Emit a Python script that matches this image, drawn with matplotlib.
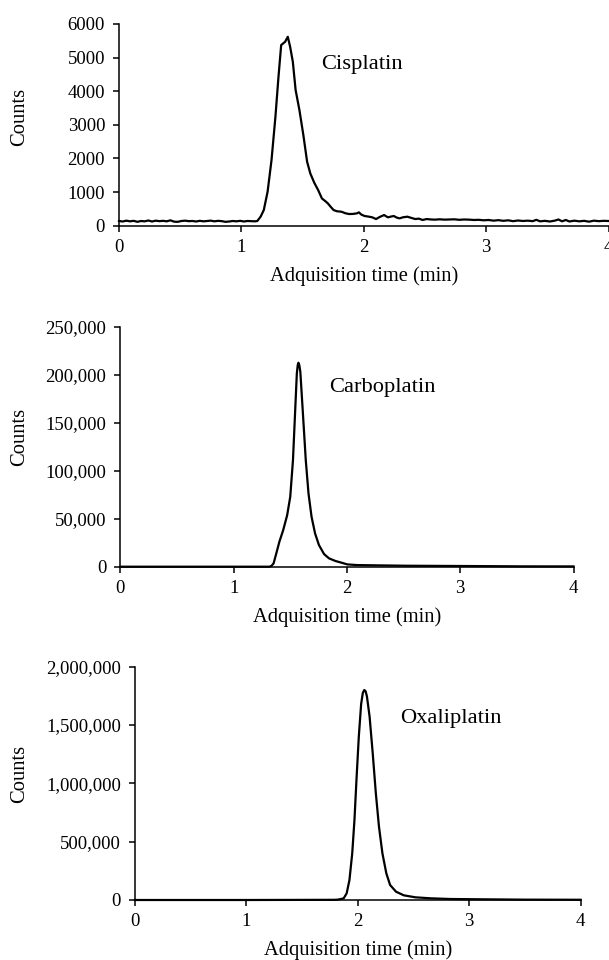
import matplotlib
matplotlib.use("Agg")
import matplotlib.pyplot as plt
from matplotlib.ticker import FuncFormatter

plt.rcParams['font.family'] = ['Liberation Serif', 'DejaVu Serif']

# ---------------- data ----------------
cis_time = [0.00, 0.03, 0.06, 0.09, 0.12, 0.15, 0.18, 0.21, 0.24, 0.27, 0.30, 0.33, 0.36,
            0.39, 0.42, 0.45, 0.48, 0.51, 0.54, 0.57, 0.60, 0.63, 0.66, 0.69, 0.72, 0.75,
            0.78, 0.81, 0.84, 0.87, 0.90, 0.93, 0.96, 0.99, 1.02, 1.05, 1.08, 1.11, 1.13,
            1.157, 1.183, 1.214, 1.246, 1.278, 1.303, 1.325, 1.357, 1.379, 1.398, 1.42,
            1.443, 1.474, 1.506, 1.537, 1.563, 1.595, 1.627, 1.658, 1.684, 1.706, 1.73,
            1.753, 1.78, 1.817, 1.85, 1.88, 1.91, 1.944, 1.96, 1.98, 2.007, 2.04, 2.07,
            2.10, 2.13, 2.166, 2.197, 2.22, 2.245, 2.27, 2.292, 2.32, 2.356, 2.39, 2.42,
            2.45, 2.48, 2.514, 2.55, 2.58, 2.62, 2.66, 2.70, 2.74, 2.78, 2.82, 2.86, 2.90,
            2.94, 2.98, 3.02, 3.06, 3.10, 3.14, 3.18, 3.22, 3.26, 3.30, 3.34, 3.38, 3.41,
            3.44, 3.48, 3.52, 3.56, 3.59, 3.62, 3.65, 3.68, 3.72, 3.76, 3.80, 3.84, 3.88,
            3.92, 3.96, 4.00]
cis_counts = [140, 125, 150, 130, 145, 115, 140, 130, 155, 125, 150, 135, 145,
              130, 160, 120, 115, 140, 150, 135, 140, 125, 145, 130, 140, 150,
              130, 145, 135, 115, 125, 140, 130, 145, 125, 140, 135, 130, 140,
              268, 466, 1010, 1950, 3240, 4430, 5375, 5470, 5620, 5325, 4880,
              4035, 3440, 2700, 1900, 1555, 1280, 1060, 810, 735, 665, 560,
              466, 430, 416, 370, 347, 350, 367, 397, 330, 288, 270, 248,
              198, 260, 317, 248, 270, 288, 240, 218, 250, 268, 230, 198,
              210, 170, 198, 185, 180, 190, 180, 185, 190, 175, 185, 180, 170,
              175, 160, 170, 150, 165, 145, 160, 135, 155, 140, 150, 135, 175,
              130, 145, 125, 150, 185, 130, 170, 125, 150, 130, 145, 120, 150,
              135, 145, 140]

carbo_time = [0.0, 1.0, 1.318, 1.336, 1.353, 1.377, 1.404, 1.438, 1.473, 1.50, 1.524,
              1.541, 1.558, 1.566, 1.572, 1.580, 1.589, 1.61, 1.637, 1.661, 1.688, 1.719,
              1.753, 1.798, 1.842, 1.90, 1.952, 2.003, 2.09, 2.26, 2.53, 3.05, 3.56, 4.0]
carbo_counts = [0, 0, 0, 1000, 3500, 13900, 26000, 38200, 53800, 72900, 111000,
                156000, 201000, 210000, 212500, 210000, 203000, 163000, 111000, 76400,
                52000, 34700, 22600, 13200, 8700, 5900, 4200, 2400, 1700, 1400, 1000,
                700, 350, 300]

oxa_time = [0.0, 1.0, 1.786, 1.82, 1.873, 1.90, 1.925, 1.95, 1.97, 1.988, 2.009, 2.03,
            2.045, 2.058, 2.070, 2.082, 2.106, 2.134, 2.162, 2.19, 2.221, 2.256, 2.29,
            2.343, 2.413, 2.518, 2.657, 2.832, 3.146, 3.49, 4.0]
oxa_counts = [0, 0, 1500, 2900, 14000, 57000, 171000, 400000, 686000, 1029000, 1400000,
              1680000, 1775000, 1800000, 1790000, 1745000, 1571000, 1257000, 914000,
              629000, 400000, 228600, 128600, 71400, 40000, 22900, 14300, 8600, 5700,
              3000, 2000]

names = ["Cisplatin", "Carboplatin", "Oxaliplatin"]
x_ticks = [0, 1, 2, 3, 4]
y_ticks = [[0, 1000, 2000, 3000, 4000, 5000, 6000],
           [0, 50000, 100000, 150000, 200000, 250000],
           [0, 500000, 1000000, 1500000, 2000000]]
label_pos = [(1.65, 4810), (1.842, 187000), (2.379, 1551700)]
xlabel = "Adquisition time (min)"
ylabel = "Counts"

# ---------------- figure ----------------
W, H = 609, 960
fig = plt.figure(figsize=(W / 100, H / 100), dpi=100)

# axes boxes in pixels: left, right, top, bottom
boxes = [(119, 608.6, 24, 225.7), (120.3, 573.5, 326.7, 566.7), (135, 580.6, 666.7, 900)]
series = [(cis_time, cis_counts), (carbo_time, carbo_counts), (oxa_time, oxa_counts)]
comma = [False, True, True]

for i, ((l, r, t, b), (xs, ys)) in enumerate(zip(boxes, series)):
    ax = fig.add_axes([l / W, 1 - b / H, (r - l) / W, (b - t) / H])
    ax.plot(xs, ys, color='black', lw=1.6, solid_joinstyle='round', clip_on=False)
    ax.set_xlim(0, 4)
    ax.set_ylim(y_ticks[i][0], y_ticks[i][-1])
    ax.set_xticks(x_ticks)
    ax.set_yticks(y_ticks[i])
    if comma[i]:
        ax.yaxis.set_major_formatter(FuncFormatter(lambda v, p: f"{int(v):,}"))
    else:
        ax.yaxis.set_major_formatter(FuncFormatter(lambda v, p: f"{int(v)}"))
    for s in ['top', 'right']:
        ax.spines[s].set_visible(False)
    for s in ['left', 'bottom']:
        ax.spines[s].set_linewidth(1.1)
    ax.tick_params(axis='both', direction='out', length=4.5, width=1.1,
                   labelsize=13.5, colors='black')
    ax.tick_params(axis='y', pad=5.5)
    ax.tick_params(axis='x', pad=5)
    ax.set_xlabel(xlabel, fontsize=14.8)
    ax.set_ylabel(ylabel, fontsize=14.8)
    h = b - t
    w = r - l
    ax.xaxis.set_label_coords(0.5, -50 / h)
    ax.xaxis.label.set_va('center')
    ax.yaxis.set_label_coords((20 - l) / w, 0.54)
    ax.yaxis.label.set_va('center')
    ax.text(label_pos[i][0], label_pos[i][1], names[i], fontsize=16.2,
            ha='left', va='center')

fig.savefig("out.png", dpi=100)
